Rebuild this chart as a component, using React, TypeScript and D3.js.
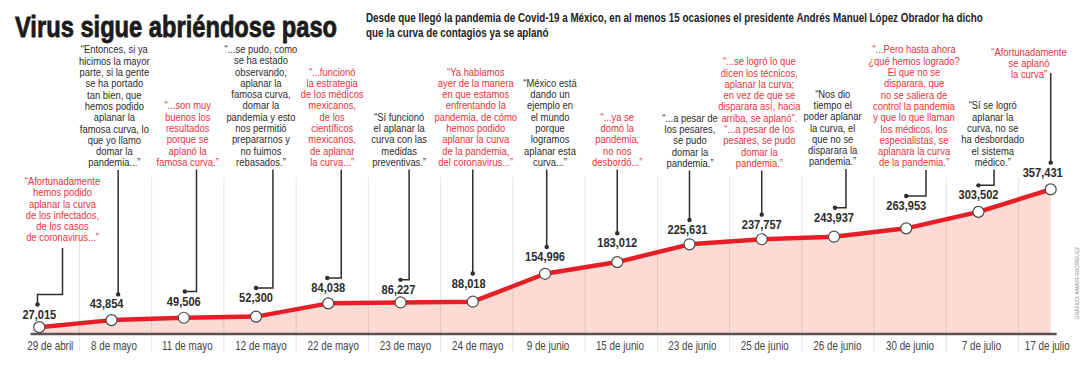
import React from "react";
import * as d3 from "d3";

// ---------- data ----------
const dates = [
  "29 de abril", "8 de mayo", "11 de mayo", "12 de mayo", "22 de mayo", "23 de mayo", "24 de mayo",
  "9 de junio", "15 de junio", "23 de junio", "25 de junio", "26 de junio", "30 de junio", "7 de julio", "17 de julio",
];
const cases = [27015, 43854, 49506, 52300, 84038, 86227, 88018, 154996, 183012, 225631, 237757, 243937, 263953, 303502, 357431];
const quoteIsRed = [true, false, true, false, true, false, true, false, true, false, true, false, true, false, true];
const quotes: string[][] = [
  ["“Afortunadamente", "hemos podido", "aplanar la curva", "de los infectados,", "de los casos", "de coronavirus...”"],
  ["“Entonces, si ya", "hicimos la mayor", "parte, si la gente", "se ha portado", "tan bien, que", "hemos podido", "aplanar la", "famosa curva, lo", "que yo llamo", "domar la", "pandemia...”"],
  ["“...son muy", "buenos los", "resultados", "porque se", "aplanó la", "famosa curva.”"],
  ["“...se pudo, como", "se ha estado", "observando,", "aplanar la", "famosa curva,", "domar la", "pandemia y esto", "nos permitió", "prepararnos y", "no fuimos", "rebasados.”"],
  ["“...funcionó", "la estrategia", "de los médicos", "mexicanos,", "de los", "científicos", "mexicanos,", "de aplanar", "la curva...”"],
  ["“Sí funcionó", "el aplanar la", "curva con las", "medidas", "preventivas.”"],
  ["“Ya hablamos", "ayer de la manera", "en que estamos", "enfrentando la", "pandemia, de cómo", "hemos podido", "aplanar la curva", "de la pandemia,", "del coronavirus...”"],
  ["“México está", "dando un", "ejemplo en", "el mundo", "porque", "logramos", "aplanar esta", "curva...”"],
  ["“...ya se", "domó la", "pandemia,", "no nos", "desbordó...”"],
  ["“...a pesar de", "los pesares,", "se pudo", "domar la", "pandemia.”"],
  ["“...se logró lo que", "dicen los técnicos,", "aplanar la curva;", "en vez de que se", "disparara así, hacia", "arriba, se aplanó”.", "“...a pesar de los", "pesares, se pudo", "domar la", "pandemia.”"],
  ["“Nos dio", "tiempo el", "poder aplanar", "la curva, el", "que no se", "disparara la", "pandemia.”"],
  ["“...Pero hasta ahora", "¿qué hemos logrado?", "El que no se", "disparara, que", "no se saliera de", "control la pandemia", "y que lo que llaman", "los médicos, los", "especialistas, se", "aplanara la curva", "de la pandemia.”"],
  ["“Sí se logró", "aplanar la", "curva, no se", "ha desbordado", "el sistema", "médico.”"],
  ["“Afortunadamente", "se aplanó", "la curva”"],
];
const titleText = "Virus sigue abriéndose paso";
const subtitleLines = [
  "Desde que llegó la pandemia de Covid-19 a México, en al menos 15 ocasiones el presidente Andrés Manuel López Obrador ha dicho",
  "que la curva de contagios ya se aplanó",
];
const creditText = "GRÁFICO: XAVIER RODRÍGUEZ";

// ---------- layout (annotation placement) ----------
const W = 1088;
const H = 376;
const FONT = "'Liberation Sans', Arial, sans-serif";
const NARROW = 0.82; // horizontal compression to emulate a narrow face
const labelLift = [8.6, 11.7, 12.2, 14.6, 11.4, 8.6, 14.2, 12.8, 14.8, 10.3, 10.6, 15, 18.3, 12.5, 12.7];
const labelShift = [0, -5, 0, 0, 0, -2, -4, 0, 0, -2, 0, 0, 0, 0, -8];
const dotShift = [-1.8, 6.6, 1, 0, -1, 0, 0, 1.7, 0, 0, 0, 1, 0, 0, 0];
const stemShift = [23.2, 6.6, 12.7, 16.9, 13, 8.6, 0, 1.7, 0, 0, 0, 12, 19.8, 15.6, 0];
const quoteShift = [23.2, 2.8, 3.9, 4.9, 3.9, -1.4, 3, 5, 0, 0.5, -2.4, -1.3, 7.8, 14.3, -21.7];
const quoteBottom = [241.5, 166.5, 166, 166, 166, 166, 166, 166, 166, 167, 167, 165.5, 166.5, 166, 78.5];
const stemGap = [6.5, 3.5, 3.5, 3.5, 3.5, 3.5, 3.5, 3.5, 3.5, 3.5, 3.5, 3.5, 3.5, 3.5, -5.5];
const axisLabelShift = [11, 2.5, 3.5, 5, 5, 5, 5, 3, 2.7, 2.9, 3, 3.4, 3.8, 3, -3.5];
const LINE_H = 11.3;
const BASE_Y = 334;

function Narrow({ x, y, anchor = "start", sx = NARROW, children, ...rest }: any) {
  return (
    <g transform={`translate(${x},${y}) scale(${sx},1)`}>
      <text x={0} y={0} textAnchor={anchor} {...rest}>
        {children}
      </text>
    </g>
  );
}

export default function App() {
  const x = d3.scalePoint<string>().domain(dates).range([39.3, 1050.7]);
  const y = d3.scaleLinear().domain([0, 360000]).range([338.4, 188.3]);
  const pts = dates.map((d, i) => ({ d, v: cases[i], px: x(d) as number, py: y(cases[i]) }));
  const step = x.step();

  const area = d3
    .area<typeof pts[number]>()
    .x((p) => p.px)
    .y0(BASE_Y)
    .y1((p) => p.py);
  const line = d3
    .line<typeof pts[number]>()
    .x((p) => p.px)
    .y((p) => p.py);
  const fmt = d3.format(",");

  return (
    <svg
      width={W}
      height={H}
      viewBox={`0 0 ${W} ${H}`}
      style={{ position: "fixed", left: 0, top: 0, background: "#fff" }}
      fontFamily={FONT}
    >
      <rect width={W} height={H} fill="#fff" />
      {/* area */}
      <path d={area(pts) || ""} fill="#fbdbd4" />
      {/* separators */}
      {pts.slice(0, -1).map((p, i) => (
        <line
          key={"sep" + i}
          x1={p.px + step / 2 + 4}
          x2={p.px + step / 2 + 4}
          y1={177}
          y2={352}
          stroke="#000"
          strokeOpacity={0.1}
          strokeWidth={1}
        />
      ))}
      {/* axis */}
      <line x1={pts[0].px - 8.7} x2={pts[pts.length - 1].px + 6} y1={BASE_Y} y2={BASE_Y} stroke="#5b5353" strokeWidth={2.5} />
      {/* red line */}
      <path d={line(pts) || ""} fill="none" stroke="#e61e27" strokeWidth={4.5} strokeLinejoin="round" />
      {/* connectors */}
      {pts.map((p, i) => {
        const labelY = p.py - labelLift[i];
        const dotX = p.px + dotShift[i];
        const dotY = labelY - 14;
        const stemX = p.px + stemShift[i];
        const top = quoteBottom[i] + stemGap[i];
        let d: string;
        if (i === 0) {
          const ey = dotY - 10;
          d = `M${stemX},${top}V${ey}H${dotX}V${dotY}`;
        } else if (Math.abs(stemX - dotX) > 0.5) {
          d = `M${stemX},${top}V${dotY}H${dotX}`;
        } else {
          d = `M${dotX},${top}V${dotY}`;
        }
        return (
          <g key={"c" + i}>
            <path d={d} fill="none" stroke="#2e2e2e" strokeWidth={1.5} />
            <circle cx={dotX} cy={dotY} r={2.2} fill="#2e2e2e" />
          </g>
        );
      })}
      {/* points */}
      {pts.map((p, i) => (
        <circle key={"p" + i} cx={p.px} cy={p.py} r={5.5} fill="#fff" stroke="#4a4a4a" strokeWidth={1.2} />
      ))}
      {/* value labels */}
      {pts.map((p, i) => (
        <Narrow
          key={"v" + i}
          x={p.px + labelShift[i]}
          y={p.py - labelLift[i]}
          anchor="middle"
          fontSize={13.5}
          fontWeight={700}
          fill="#2b2b2b"
        >
          {fmt(p.v)}
        </Narrow>
      ))}
      {/* quotes */}
      {pts.map((p, i) => {
        const lines = quotes[i];
        const cx = p.px + quoteShift[i];
        const first = quoteBottom[i] - (lines.length - 1) * LINE_H;
        return (
          <g key={"q" + i} transform={`translate(${cx},0) scale(${NARROW},1)`}>
            <text textAnchor="middle" fontSize={11.5} fill={quoteIsRed[i] ? "#e8323b" : "#2b2b2b"}>
              {lines.map((l, j) => (
                <tspan key={j} x={0} y={first + j * LINE_H}>
                  {l}
                </tspan>
              ))}
            </text>
          </g>
        );
      })}
      {/* axis labels */}
      {pts.map((p, i) => (
        <Narrow key={"a" + i} x={p.px + axisLabelShift[i]} y={349.5} anchor="middle" fontSize={12} fill="#444">
          {p.d}
        </Narrow>
      ))}
      {/* title */}
      <Narrow x={15} y={36.7} sx={0.79} fontSize={30} fontWeight={700} fill="#1b1b1b" stroke="#1b1b1b" strokeWidth={0.8}>
        {titleText}
      </Narrow>
      {subtitleLines.map((s, i) => (
        <Narrow key={"s" + i} x={366} y={22 + i * 15.3} fontSize={12} fontWeight={700} fill="#222">
          {s}
        </Narrow>
      ))}
      {/* credit */}
      <g transform="translate(1079,283) rotate(-90) scale(0.8,1)">
        <text textAnchor="middle" fontSize={6} fill="#777">
          {creditText}
        </text>
      </g>
    </svg>
  );
}
